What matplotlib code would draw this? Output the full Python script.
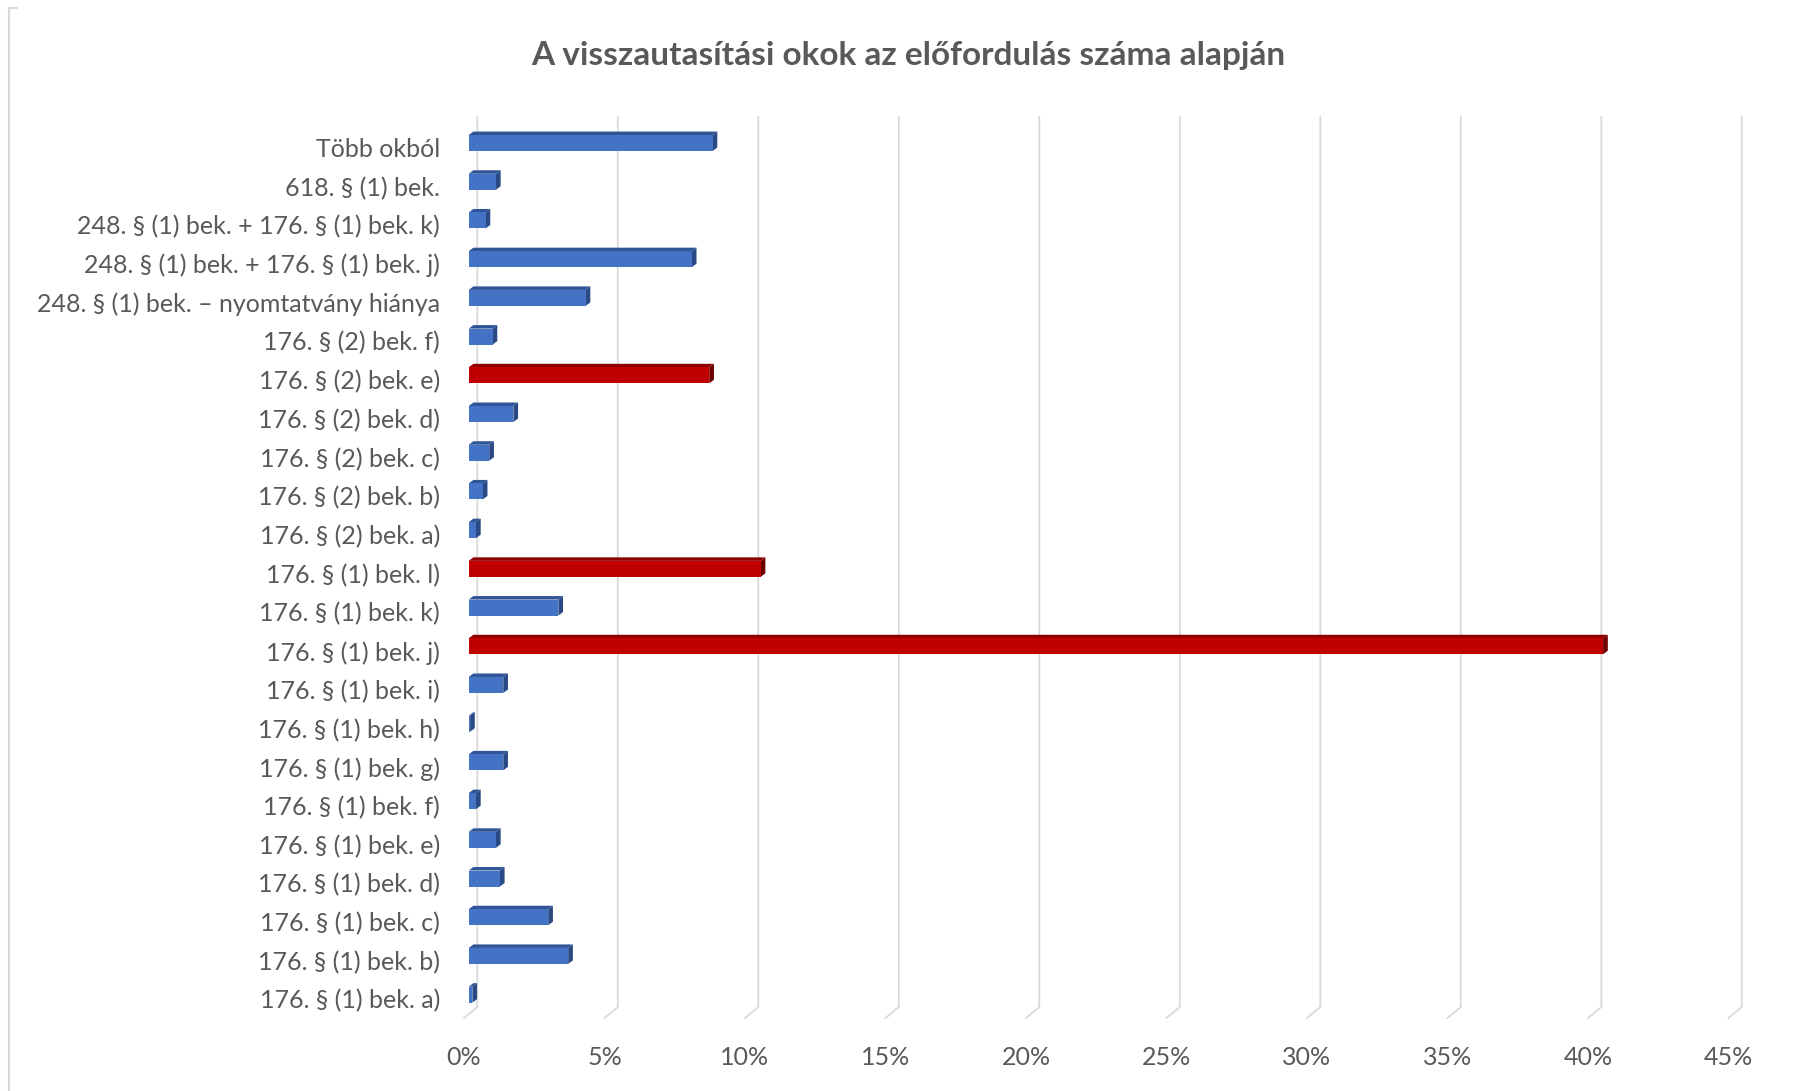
import matplotlib
matplotlib.use('Agg')
import matplotlib.pyplot as plt
from matplotlib.patches import Rectangle, Polygon
from matplotlib.lines import Line2D

# categories from bottom to top
categories = ['176. § (1) bek. a)', '176. § (1) bek. b)', '176. § (1) bek. c)',
              '176. § (1) bek. d)', '176. § (1) bek. e)', '176. § (1) bek. f)',
              '176. § (1) bek. g)', '176. § (1) bek. h)', '176. § (1) bek. i)',
              '176. § (1) bek. j)', '176. § (1) bek. k)', '176. § (1) bek. l)',
              '176. § (2) bek. a)', '176. § (2) bek. b)', '176. § (2) bek. c)',
              '176. § (2) bek. d)', '176. § (2) bek. e)', '176. § (2) bek. f)',
              '248. § (1) bek. – nyomtatvány hiánya',
              '248. § (1) bek. + 176. § (1) bek. j)',
              '248. § (1) bek. + 176. § (1) bek. k)',
              '618. § (1) bek.', 'Több okból']
shares = [0.13, 3.54, 2.83, 1.11, 0.97, 0.26, 1.23, 0.05, 1.23, 40.37, 3.19, 10.39,
          0.26, 0.5, 0.73, 1.59, 8.56, 0.85, 4.16, 7.94, 0.6, 0.97, 8.68]
highlighted = ['176. § (1) bek. j)', '176. § (1) bek. l)', '176. § (2) bek. e)']
xticks = [0, 5, 10, 15, 20, 25, 30, 35, 40, 45]
title = 'A visszautasítási okok az előfordulás száma alapján'

W, H = 1795, 1091
px_per_x = 28.1    # pixels per percent
px_per_y = 38.7    # pixels per category
font = ['Lato', 'DejaVu Sans']
grey_text = '#595959'
grid_col = '#d9d9d9'

fig = plt.figure(figsize=(W / 100, H / 100), dpi=100)
left, right, top, bottom = 468.7, 468.7 + 45 * px_per_x, 123.7, 1014
ax = fig.add_axes([left / W, (H - bottom) / H, (right - left) / W, (bottom - top) / H])
ax.set_xlim(0, 45)
ax.set_ylim(-0.5, len(categories) - 0.5)
ax.axis('off')

# 3d offsets in data units
gx, gy = 8.6 / px_per_x, 7 / px_per_y     # back wall
fx, fy = 4.7 / px_per_x, 4 / px_per_y     # front floor edge
dx, dy = 4.7 / px_per_x, 3.5 / px_per_y   # bar depth
h = 16 / px_per_y
ytop = len(categories) - 0.5

for v in xticks:
    ax.plot([v + gx, v + gx, v - fx], [ytop + gy, -0.5 + gy, -0.5 - fy],
            color=grid_col, lw=1.3, clip_on=False, zorder=1, solid_joinstyle='miter')
    ax.text(v - fx, -0.5 - 43 / px_per_y, f'{v}%', ha='center', va='center',
            fontsize=18, color=grey_text, family=font)

for i, (cat, v) in enumerate(zip(categories, shares)):
    if cat in highlighted:
        front, topc, side = '#c00000', '#8f0000', '#6e0000'
    else:
        front, topc, side = '#4472c4', '#2f5597', '#2a4a85'
    y0, y1 = i - h / 2, i + h / 2
    ax.add_patch(Polygon([(0, y1), (v, y1), (v + dx, y1 + dy), (dx, y1 + dy)],
                         closed=True, fc=topc, ec='none', zorder=3, clip_on=False))
    ax.add_patch(Polygon([(v, y0), (v, y1), (v + dx, y1 + dy), (v + dx, y0 + dy)],
                         closed=True, fc=side, ec='none', zorder=3, clip_on=False))
    ax.add_patch(Rectangle((0, y0), v, h, fc=front, ec='none', zorder=4, clip_on=False))
    ax.text(-28.7 / px_per_x, i - 6.5 / px_per_y, cat, ha='right', va='center',
            fontsize=18, color=grey_text, family=font)

fig.text(908 / W, 1 - 55 / H, title, ha='center', va='center', fontsize=24,
         fontweight='bold', color=grey_text, family=font)

# chart border remnants
fig.add_artist(Line2D([9 / W, 9 / W, 17 / W], [0, 1 - 8 / H, 1 - 8 / H],
                      color=grid_col, lw=1.5))

fig.savefig('out.png', dpi=100)
